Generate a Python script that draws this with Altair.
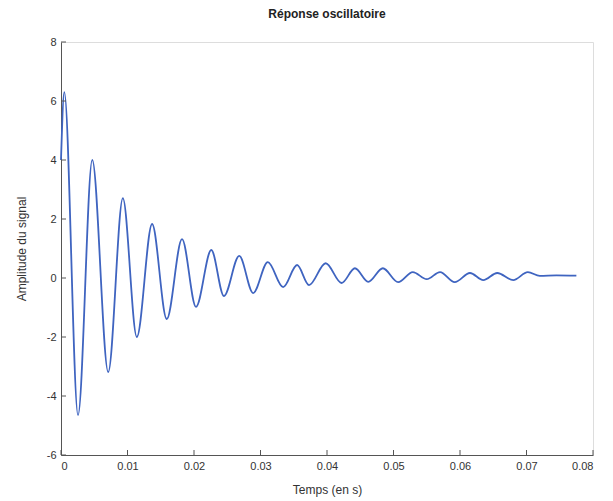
import altair as alt
import pandas as pd

# Extremes of the damped oscillation (time in s, amplitude)
t_vals = [0.0, 0.0005, 0.00256, 0.0047, 0.0071, 0.0093, 0.0114, 0.0137, 0.0159,
          0.0182, 0.0203, 0.0226, 0.0245, 0.0268, 0.0289, 0.0311, 0.0334, 0.0355,
          0.0373, 0.0398, 0.0422, 0.0442, 0.0462, 0.0484, 0.0507, 0.0529, 0.055,
          0.057, 0.0592, 0.0615, 0.0635, 0.0656, 0.068, 0.0702, 0.072, 0.0745, 0.0775]
a_vals = [4.0, 6.3, -4.65, 4.0, -3.19, 2.71, -2.0, 1.83, -1.39,
          1.32, -0.98, 0.95, -0.61, 0.75, -0.51, 0.54, -0.31, 0.44,
          -0.24, 0.5, -0.17, 0.33, -0.13, 0.33, -0.14, 0.2, -0.04,
          0.2, -0.14, 0.17, -0.07, 0.17, -0.07, 0.2, 0.07, 0.09, 0.08]

x_ticks = [0, 0.01, 0.02, 0.03, 0.04, 0.05, 0.06, 0.07, 0.08]
y_ticks = [-6, -4, -2, 0, 2, 4, 6, 8]

W, H = 532, 413

df = pd.DataFrame({"t": t_vals, "a": a_vals})
xt = pd.DataFrame({"t": x_ticks})
yt = pd.DataFrame({"a": y_ticks})

xscale = alt.Scale(domain=[0, 0.08], nice=False, zero=False)
yscale = alt.Scale(domain=[-6, 8], nice=False, zero=False)

axis_common = dict(
    domainColor="#555555", tickSize=0, labelColor="#333333",
    labelFont="Liberation Sans", labelFontSize=11, titleFont="Liberation Sans",
    titleFontSize=12, titleFontWeight="normal", titleColor="#333333", grid=False,
    labelPadding=5,
    labelExpr="replace(format(datum.value, '~g'), '\u2212', '-')",
)

line = alt.Chart(df).mark_line(
    interpolate="monotone", color="#3f64c0", strokeWidth=1.8
).encode(
    x=alt.X("t:Q", scale=xscale, title="Temps (en s)",
            axis=alt.Axis(values=x_ticks, titlePadding=13, **axis_common)),
    y=alt.Y("a:Q", scale=yscale, title="Amplitude du signal",
            axis=alt.Axis(values=y_ticks, titlePadding=18, **axis_common)),
)

xticks = alt.Chart(xt).mark_rule(color="#555555", strokeWidth=1).encode(
    x=alt.X("t:Q", scale=xscale), y=alt.value(H), y2=alt.value(H - 5)
)
yticks = alt.Chart(yt).mark_rule(color="#555555", strokeWidth=1).encode(
    y=alt.Y("a:Q", scale=yscale), x=alt.value(0), x2=alt.value(5)
)

chart = alt.layer(line, xticks, yticks).properties(
    width=W, height=H,
    title=alt.TitleParams("Réponse oscillatoire", font="Liberation Sans",
                          fontSize=12, fontWeight="bold", color="#222222",
                          anchor="middle", offset=15),
    padding={"left": 53, "top": 34, "right": 12, "bottom": 46},
    autosize="none",
).configure_view(stroke=None).configure(background="white")

chart.save("out.html", embed_options={"renderer": "svg", "actions": False})
